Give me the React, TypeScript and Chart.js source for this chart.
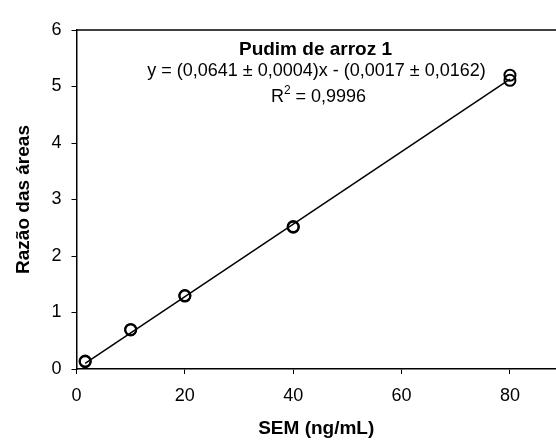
import { useEffect, useRef } from 'react';
import { Chart, registerables } from 'chart.js';

Chart.register(...registerables);

// ---- data ----
const concentrations = [1.6, 1.6, 10, 10, 20, 20, 40, 40, 80, 80];
const areaRatios = [0.14, 0.13, 0.7, 0.69, 1.3, 1.29, 2.52, 2.51, 5.2, 5.11];
const fitX = [1.6, 80];
const fitY = [0.1, 5.13];
const xTicks = [0, 20, 40, 60, 80];
const yTicks = [0, 1, 2, 3, 4, 5, 6];
const chartTitle = 'Pudim de arroz 1';
const equationText = 'y = (0,0641 ± 0,0004)x - (0,0017 ± 0,0162)';
const r2Text = '0,9996';
const xTitle = 'SEM (ng/mL)';
const yTitle = 'Razão das áreas';

const FONT = '"Liberation Sans", Arial, Helvetica, sans-serif';

const annotationPlugin = {
  id: 'annotationPlugin',
  afterDraw(chart: any) {
    const ctx = chart.ctx as CanvasRenderingContext2D;
    const a = chart.chartArea;
    ctx.save();
    // top frame line
    ctx.strokeStyle = '#000';
    ctx.lineWidth = 1.5;
    ctx.beginPath();
    ctx.moveTo(a.left, a.top);
    ctx.lineTo(a.right, a.top);
    ctx.stroke();

    ctx.fillStyle = '#000';
    ctx.textBaseline = 'middle';
    ctx.textAlign = 'center';
    const cx = a.left + 239;
    ctx.font = `bold 19px ${FONT}`;
    ctx.fillText(chartTitle, cx, a.top + 20);
    ctx.font = `18px ${FONT}`;
    ctx.fillText(equationText, cx + 1, a.top + 41);

    // R² line
    const bigFont = `18px ${FONT}`;
    const supFont = `12px ${FONT}`;
    ctx.font = bigFont;
    const wR = ctx.measureText('R').width;
    const rest = ' = ' + r2Text;
    const wRest = ctx.measureText(rest).width;
    ctx.font = supFont;
    const w2 = ctx.measureText('2').width;
    const total = wR + w2 + wRest;
    let x = cx + 3 - total / 2;
    const y = a.top + 67;
    ctx.textAlign = 'left';
    ctx.font = bigFont;
    ctx.fillText('R', x, y);
    x += wR;
    ctx.font = supFont;
    ctx.fillText('2', x, y - 6);
    x += w2;
    ctx.font = bigFont;
    ctx.fillText(rest, x, y);
    ctx.restore();
  },
};

export default function App() {
  const canvasRef = useRef<HTMLCanvasElement | null>(null);

  useEffect(() => {
    const canvas = canvasRef.current;
    if (!canvas) return;
    const points = concentrations.map((c, i) => ({ x: c, y: areaRatios[i] }));
    const fit = fitX.map((c, i) => ({ x: c, y: fitY[i] }));
    const chart = new Chart(canvas, {
      type: 'scatter',
      data: {
        datasets: [
          {
            label: 'Amostras',
            data: points,
            pointRadius: 5.5,
            pointBorderWidth: 2,
            pointBorderColor: '#000',
            pointBackgroundColor: 'rgba(0,0,0,0)',
            pointStyle: 'circle',
            showLine: false,
          },
          {
            label: 'Regressão',
            data: fit,
            showLine: true,
            borderColor: '#000',
            borderWidth: 1.5,
            pointRadius: 0,
            fill: false,
          },
        ],
      },
      options: {
        responsive: false,
        animation: false,
        devicePixelRatio: 1,
        layout: { autoPadding: false, padding: { top: 30, right: 0, left: 0, bottom: 0 } },
        plugins: {
          legend: { display: false },
          tooltip: { enabled: false },
          title: { display: false },
        },
        scales: {
          x: {
            type: 'linear',
            min: 0,
            max: 88.5,
            afterBuildTicks: (s: any) => {
              s.ticks = xTicks.map((v) => ({ value: v }));
            },
            afterFit: (s: any) => {
              s.height = 71;
            },
            grid: {
              drawOnChartArea: false,
              drawTicks: true,
              tickLength: 5,
              color: '#000',
              lineWidth: 1,
            },
            border: { display: true, color: '#000', width: 1.5 },
            ticks: {
              color: '#000',
              font: { family: FONT, size: 18 },
              padding: 11,
              maxRotation: 0,
            },
            title: {
              display: true,
              text: xTitle,
              color: '#000',
              font: { family: FONT, size: 19, weight: 'bold' },
              padding: { top: 0, bottom: 0 },
            },
          },
          y: {
            type: 'linear',
            min: 0,
            max: 6,
            afterBuildTicks: (s: any) => {
              s.ticks = yTicks.map((v) => ({ value: v }));
            },
            afterFit: (s: any) => {
              s.width = 76.5;
            },
            grid: {
              drawOnChartArea: false,
              drawTicks: true,
              tickLength: 5,
              color: '#000',
              lineWidth: 1,
            },
            border: { display: true, color: '#000', width: 1.5 },
            ticks: {
              color: '#000',
              font: { family: FONT, size: 18 },
              padding: 10,
            },
            title: {
              display: true,
              text: yTitle,
              color: '#000',
              font: { family: FONT, size: 19, weight: 'bold' },
              padding: { top: 12, bottom: 0 },
            },
          },
        },
      } as any,
      plugins: [annotationPlugin],
    });
    return () => chart.destroy();
  }, []);

  return (
    <div style={{ position: 'absolute', left: 0, top: 0, width: 556, height: 440, background: '#fff' }}>
      <canvas ref={canvasRef} width={556} height={440} style={{ display: 'block' }} />
    </div>
  );
}
